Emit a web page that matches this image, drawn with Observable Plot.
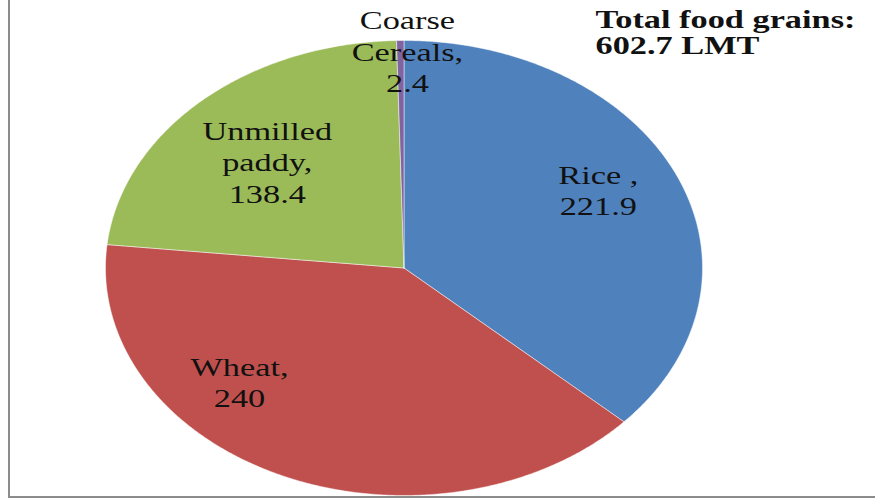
<!DOCTYPE html>
<html><head><meta charset="utf-8">
<script src="https://cdn.jsdelivr.net/npm/d3@7"></script>
<script src="https://cdn.jsdelivr.net/npm/@observablehq/plot@0.6"></script>
<style>
html,body{margin:0;padding:0;background:#fff;}
#wrap{position:relative;width:875px;height:500px;overflow:hidden;}
#border{position:absolute;left:8px;top:0;width:880px;height:496px;border-left:2px solid #8c8c8c;border-bottom:2px solid #8c8c8c;pointer-events:none;}
</style></head><body>
<div id="wrap"><div id="chart"></div><div id="border"></div></div>
<script>
// ---- data ----
const categories = ["Rice", "Wheat", "Unmilled paddy", "Coarse Cereals"];
const values = [221.9, 240, 138.4, 2.4];
const labels = ["Rice ,\n221.9", "Wheat,\n240", "Unmilled\npaddy,\n138.4", "Coarse\nCereals,\n2.4"];
const colors = ["#4F81BD", "#C0504D", "#9BBB59", "#8064A2"];
const totalLabel = "Total food grains:\n602.7 LMT";

// ---- build slice polygons (angles clockwise from 12 o'clock) ----
const total = d3.sum(values);
const rad = Math.PI / 180;
const polyPts = [];
const mids = [];
let acc = 0;
values.forEach((v, i) => {
  const a0 = acc / total * 360, a1 = (acc + v) / total * 360;
  acc += v;
  mids.push((a0 + a1) / 2);
  const n = Math.max(2, Math.ceil((a1 - a0) / 0.5));
  polyPts.push({name: categories[i], x: 0, y: 0});
  for (let k = 0; k <= n; k++) {
    const a = (a0 + (a1 - a0) * k / n) * rad;
    polyPts.push({name: categories[i], x: Math.sin(a), y: Math.cos(a)});
  }
  polyPts.push({name: categories[i], x: 0, y: 0});
});

// label placement (radius factor along mid angle + pixel nudge)
const place = [{r: 0.7, dx: 3, dy: -14}, {r: 0.6, dx: -91, dy: -11}, {r: 0.65, dx: -5, dy: 2}, {r: 0.96, dx: 7, dy: 1}];
const font = "Liberation Serif, Times New Roman, serif";
const labelMarks = labels.map((t, i) => {
  const a = mids[i] * rad, r = place[i].r;
  return Plot.text([{x: r * Math.sin(a), y: r * Math.cos(a), t}], {
    x: "x", y: "y", text: "t", dx: place[i].dx, dy: place[i].dy,
    fontSize: 26, lineHeight: 1.2, fill: "#111", fontFamily: font, textAnchor: "middle", lineAnchor: "middle"
  });
});

const chart = Plot.plot({
  width: 875, height: 500, margin: 0,
  style: {fontFamily: font, background: "transparent", overflow: "visible"},
  x: {domain: [-1, 1], range: [105, 702], axis: null},
  y: {domain: [-1, 1], range: [495, 40], axis: null},
  color: {domain: categories, range: colors},
  marks: [
    Plot.line(polyPts, {x: "x", y: "y", z: "name", fill: "name", stroke: "#fff", strokeWidth: 0.8, strokeOpacity: 0.6}),
    ...labelMarks,
    Plot.text([totalLabel], {frameAnchor: "top-left", dx: 595, dy: 8, textAnchor: "start", lineAnchor: "top",
      fontSize: 26, fontWeight: "bold", lineHeight: 1.03, fill: "#111", fontFamily: font})
  ]
});

// horizontal stretch of text to match the reference's aspect
chart.querySelectorAll("text").forEach(t => {
  const x = +(t.getAttribute("x") || 0), y = +(t.getAttribute("y") || 0);
  const tr = t.getAttribute("transform") || "";
  t.setAttribute("transform", `${tr} translate(${x},${y}) scale(1.32,1) translate(${-x},${-y})`);
});
document.getElementById("chart").appendChild(chart);
</script>
</body></html>
